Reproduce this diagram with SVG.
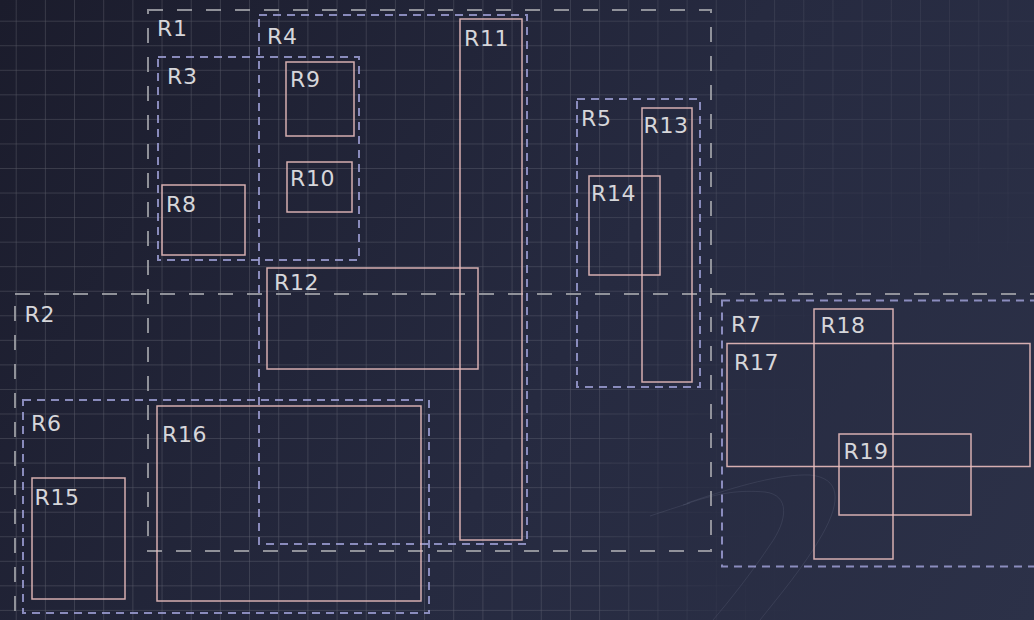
<svg xmlns="http://www.w3.org/2000/svg" width="1034" height="620" viewBox="0 0 1034 620">
<defs>
<linearGradient id="bg" x1="0" y1="0" x2="1034" y2="620" gradientUnits="userSpaceOnUse">
<stop offset="0" stop-color="#1b1c2c"/>
<stop offset="0.55" stop-color="#262a40"/>
<stop offset="1" stop-color="#2c3148"/>
</linearGradient>
<pattern id="grid" x="15.7" y="20.7" width="29.17" height="24.55" patternUnits="userSpaceOnUse">
<path d="M0 0V24.55M0 0H29.17" fill="none" stroke="#ffffff" stroke-opacity="0.26" stroke-width="1"/>
</pattern>
<linearGradient id="fadeX" x1="0" y1="0" x2="1034" y2="0" gradientUnits="userSpaceOnUse">
<stop offset="0" stop-color="#fff" stop-opacity="1"/>
<stop offset="0.5" stop-color="#fff" stop-opacity="0.9"/>
<stop offset="1" stop-color="#fff" stop-opacity="0.3"/>
</linearGradient>
<radialGradient id="dimBR" cx="960" cy="500" r="380" gradientUnits="userSpaceOnUse">
<stop offset="0" stop-color="#000" stop-opacity="1"/>
<stop offset="0.6" stop-color="#000" stop-opacity="0.9"/>
<stop offset="1" stop-color="#000" stop-opacity="0"/>
</radialGradient>
<mask id="gridMask" maskUnits="userSpaceOnUse" x="0" y="0" width="1034" height="620">
<rect width="1034" height="620" fill="url(#fadeX)"/>
<rect width="1034" height="620" fill="url(#dimBR)"/>
</mask>
<style>
.big{fill:none;stroke:#a3a4aa;stroke-opacity:0.85;stroke-width:2;stroke-dasharray:15 14}
.grp{fill:none;stroke:#9c9ed4;stroke-opacity:0.85;stroke-width:2;stroke-dasharray:8 6}
.box{fill:none;stroke:#e9bcbc;stroke-opacity:0.9;stroke-width:1.5}
.lbl{font-family:"DejaVu Sans",sans-serif;font-size:22px;fill:#d6d6da;letter-spacing:0.6px}
.deco{fill:none;stroke:#8a8fa8;stroke-opacity:0.16;stroke-width:1}
</style>
</defs>
<rect width="1034" height="620" fill="url(#bg)"/>
<rect width="1034" height="620" fill="url(#grid)" mask="url(#gridMask)"/>
<path class="deco" d="M683 505 C 720 492, 740 490, 765 492 C 790 495, 788 520, 770 545 C 750 575, 730 600, 713 620"/>
<path class="deco" d="M687 503 C 740 485, 780 474, 810 475 C 840 478, 842 500, 822 535 C 805 565, 780 595, 760 620"/>
<path class="deco" d="M650 516 C 665 511, 677 507, 690 503"/>
<g id="connectors"/>
<g id="R1"><rect class="big" x="148" y="10" width="563" height="541"/><text class="lbl" x="157" y="36">R1</text></g>
<g id="R2"><rect class="big" x="15" y="294" width="1060" height="360"/><text class="lbl" x="24.5" y="321.5">R2</text></g>
<g id="R3"><rect class="grp" x="158" y="57" width="201" height="203"/><text class="lbl" x="167" y="84">R3</text></g>
<g id="R4"><rect class="grp" x="259" y="15" width="268" height="529"/><text class="lbl" x="267" y="44">R4</text></g>
<g id="R5"><rect class="grp" x="577" y="99" width="123" height="288"/><text class="lbl" x="581" y="125.5">R5</text></g>
<g id="R6"><rect class="grp" x="23" y="400" width="406" height="213"/><text class="lbl" x="31" y="430.5">R6</text></g>
<g id="R7"><rect class="grp" x="722" y="300.5" width="360" height="266"/><text class="lbl" x="731" y="331.5">R7</text></g>
<g id="R8"><rect class="box" x="162" y="185" width="83" height="70"/><text class="lbl" x="166" y="212">R8</text></g>
<g id="R9"><rect class="box" x="286" y="62" width="68" height="74"/><text class="lbl" x="290" y="86.5">R9</text></g>
<g id="R10"><rect class="box" x="287" y="162" width="65" height="50"/><text class="lbl" x="290" y="186">R10</text></g>
<g id="R11"><rect class="box" x="460" y="19" width="62" height="521"/><text class="lbl" x="464" y="46">R11</text></g>
<g id="R12"><rect class="box" x="267" y="268" width="211" height="101"/><text class="lbl" x="274" y="290">R12</text></g>
<g id="R13"><rect class="box" x="642" y="108" width="50" height="274"/><text class="lbl" x="643.5" y="132.5">R13</text></g>
<g id="R14"><rect class="box" x="589" y="176" width="71" height="99"/><text class="lbl" x="591" y="201">R14</text></g>
<g id="R15"><rect class="box" x="32" y="478" width="93" height="121"/><text class="lbl" x="34.5" y="504.5">R15</text></g>
<g id="R16"><rect class="box" x="157" y="406" width="264" height="195"/><text class="lbl" x="162" y="442">R16</text></g>
<g id="R17"><rect class="box" x="727" y="343.5" width="303" height="123"/><text class="lbl" x="734" y="369.5">R17</text></g>
<g id="R18"><rect class="box" x="814" y="309" width="79" height="250"/><text class="lbl" x="820.5" y="332.5">R18</text></g>
<g id="R19"><rect class="box" x="839" y="434" width="132" height="81"/><text class="lbl" x="843.5" y="458.5">R19</text></g>
</svg>
